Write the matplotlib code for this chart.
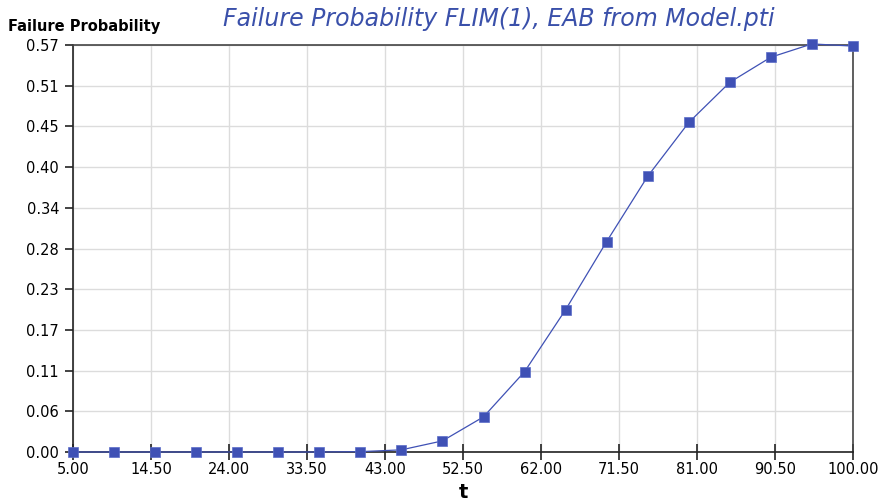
import matplotlib.pyplot as plt

# data
t = [5, 10, 15, 20, 25, 30, 35, 40, 45, 50, 55, 60, 65, 70, 75, 80, 85, 90, 95, 100]
prob = [0.0, 0.0, 0.0, 0.0, 0.0, 0.0, 0.0, 0.0005, 0.003, 0.0155, 0.049, 0.112,
        0.1985, 0.2935, 0.3845, 0.4595, 0.5155, 0.5505, 0.569, 0.566]

x_ticks = [5.0, 14.5, 24.0, 33.5, 43.0, 52.5, 62.0, 71.5, 81.0, 90.5, 100.0]
y_max = 0.5675
y_tick_labels = ["0.00", "0.06", "0.11", "0.17", "0.23", "0.28",
                 "0.34", "0.40", "0.45", "0.51", "0.57"]

blue = "#3f51b5"

fig = plt.figure(figsize=(8.84, 5.03), dpi=100)
ax = fig.add_axes([73 / 884, 1 - 452 / 503, 780 / 884, 407 / 503])

ax.plot(t, prob, color=blue, linewidth=0.9, marker="s", markersize=6.5,
        markerfacecolor=blue, markeredgecolor="#5a6cc8", markeredgewidth=0.5,
        clip_on=False, zorder=3)

ax.set_xlim(5, 100)
ax.set_ylim(0, y_max)
ax.set_xticks(x_ticks)
ax.set_xticklabels(["%.2f" % v for v in x_ticks])
y_ticks = [y_max * i / 10 for i in range(11)]
ax.set_yticks(y_ticks)
ax.set_yticklabels(y_tick_labels)

ax.grid(True, color="#dcdcdc", linewidth=1.0)
ax.set_axisbelow(True)

for side in ["left", "bottom"]:
    ax.spines[side].set_color("#222222")
    ax.spines[side].set_linewidth(1.2)
for side in ["top", "right"]:
    ax.spines[side].set_color("#444444")
    ax.spines[side].set_linewidth(1.2)

ax.tick_params(axis="x", direction="inout", length=12, width=1.2,
               labelsize=10.5, pad=1, color="#222222")
ax.tick_params(axis="y", direction="out", length=6, width=1.2,
               labelsize=10.5, pad=4, color="#222222")

fig.text(8 / 884, 1 - 27 / 503, "Failure Probability", fontsize=10.5,
         fontweight="bold", va="center", ha="left")
fig.text(499 / 884, 1 - 19 / 503, "Failure Probability FLIM(1), EAB from Model.pti",
         fontsize=17, style="italic", color="#3a50aa", va="center", ha="center")
fig.text(463 / 884, 1 - 493 / 503, "t", fontsize=14, fontweight="bold",
         va="center", ha="center")

fig.savefig("out.png", dpi=100)
